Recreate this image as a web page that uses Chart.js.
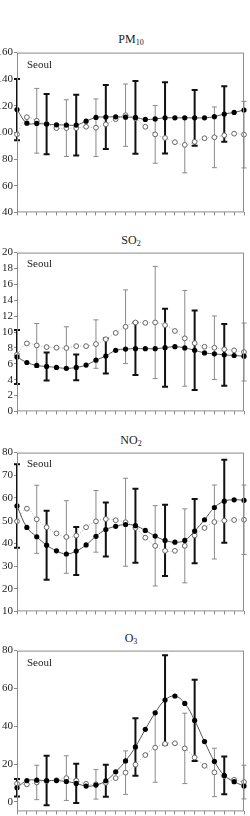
<!DOCTYPE html>
<html>
<head>
<meta charset="utf-8">
<script src="https://cdn.jsdelivr.net/npm/chart.js@4.4.0/dist/chart.umd.min.js"></script>
<style>
  body { margin: 0; background: #fff; width: 250px; height: 816px; position: relative; overflow: hidden; font-family: "Liberation Serif", serif; color: #222; }
  canvas { position: absolute; left: 0; }
  .title { position: absolute; left: 6px; width: 250px; text-align: center; font-size: 12px; line-height: 14px; }
  .title sub { font-size: 8px; vertical-align: -2px; }
  .city { position: absolute; left: 27px; font-size: 11px; line-height: 12px; }
</style>
</head>
<body>
<div class="title" style="top:32px">PM<sub>10</sub></div>
<canvas id="pm10" width="250" height="175" style="top:45px"></canvas>
<div class="city" style="top:58px">Seoul</div>

<div class="title" style="top:233px">SO<sub>2</sub></div>
<canvas id="so2" width="250" height="174" style="top:245px"></canvas>
<div class="city" style="top:257px">Seoul</div>

<div class="title" style="top:433px">NO<sub>2</sub></div>
<canvas id="no2" width="250" height="174" style="top:445px"></canvas>
<div class="city" style="top:457px">Seoul</div>

<div class="title" style="top:631px">O<sub>3</sub></div>
<canvas id="o3" width="250" height="176" style="top:643px"></canvas>
<div class="city" style="top:656px">Seoul</div>

<script>
const hours = ["0","1","2","3","4","5","6","7","8","9","10","11","12","13","14","15","16","17","18","19","20","21","22","23"];

// y tick labels per panel
const pm10Ticks = [40, 60, 80, 100, 120, 140, 160];
const so2Ticks = [0, 2, 4, 6, 8, 10, 12, 14, 16, 18, 20];
const no2Ticks = [10, 20, 30, 40, 50, 60, 70, 80];
const o3Ticks = [0, 20, 40, 60, 80];

// filled dots (A) and open dots (B), hourly means
const pm10A = [117.2, 107.0, 106.8, 106.3, 105.8, 105.6, 105.6, 108.5, 111.3, 111.6, 111.8, 111.5, 111.3, 109.8, 110.2, 111.0, 111.0, 111.0, 111.0, 111.0, 111.9, 113.9, 115.1, 116.9];
const pm10B = [98.6, 111.5, 108.8, 106.5, 103.3, 103.3, 103.3, 104.3, 103.6, 106.1, 110.0, 113.0, 110.6, 104.3, 98.6, 95.9, 92.7, 90.7, 93.0, 95.7, 96.4, 97.9, 99.1, 98.4];
const pm10ASd = [23.0, null, null, 22.6, null, null, 22.8, null, null, 24.0, null, null, 27.3, null, null, 26.7, null, null, 20.9, null, null, 20.8, null, null];
const pm10BSd = [null, null, 24.3, null, null, 21.3, null, null, 21.6, null, null, 23.4, null, null, 21.7, null, null, 21.0, null, null, 22.8, null, null, 25.0];

const so2A = [6.86, 6.16, 5.79, 5.66, 5.54, 5.42, 5.54, 5.83, 6.45, 6.98, 7.69, 7.85, 7.9, 7.9, 7.9, 8.02, 8.15, 8.0, 7.7, 7.37, 7.25, 7.12, 7.04, 6.95];
const so2B = [7.15, 8.56, 8.31, 8.1, 8.02, 7.98, 8.22, 8.22, 8.48, 9.09, 9.88, 10.66, 11.2, 11.15, 11.2, 10.87, 10.13, 9.2, 8.6, 8.14, 8.02, 7.81, 7.69, 7.48];
const so2ASd = [3.4, null, null, 1.76, null, null, 1.63, null, null, 2.2, null, null, 3.3, null, null, 4.9, null, null, 5.0, null, null, 3.9, null, null];
const so2BSd = [null, null, 2.76, null, null, 2.68, null, null, 3.05, null, null, 4.64, null, null, 7.07, null, null, 6.03, null, null, 4.0, null, null, 3.65];

const no2A = [56.5, 47.0, 42.9, 39.2, 36.7, 35.3, 36.6, 39.3, 43.1, 46.1, 47.5, 48.3, 47.8, 45.7, 43.2, 41.3, 40.5, 41.3, 45.4, 50.4, 55.8, 58.6, 59.2, 59.0];
const no2B = [49.7, 55.3, 50.6, 47.1, 44.4, 42.8, 43.4, 47.1, 49.7, 50.7, 50.2, 49.3, 46.8, 42.5, 38.9, 36.7, 36.7, 38.9, 43.5, 46.8, 49.4, 50.0, 50.3, 50.4];
const no2ASd = [18.4, null, null, 15.2, null, null, 10.6, null, null, 11.9, null, null, 16.3, null, null, 15.7, null, null, 14.2, null, null, 18.3, null, null];
const no2BSd = [null, null, 15.0, null, null, 16.0, null, null, 13.6, null, null, 19.4, null, null, 17.7, null, null, 16.3, null, null, 16.3, null, null, 15.3];

const o3A = [7.5, 11.3, 11.5, 11.3, 11.3, 10.8, 9.8, 8.4, 8.9, 11.2, 15.9, 21.7, 29.1, 38.4, 47.1, 53.9, 56.0, 52.1, 43.1, 31.9, 21.4, 14.0, 10.7, 8.4];
const o3B = [9.6, 9.3, 10.3, 11.0, 11.5, 12.6, 11.3, 9.6, 9.3, 10.1, 12.6, 15.5, 19.7, 24.8, 28.7, 30.7, 31.0, 28.3, 23.5, 19.1, 15.6, 13.7, 11.7, 10.5];
const o3ASd = [4.6, null, null, 13.1, null, null, 10.4, null, null, 8.4, null, null, 15.2, null, null, 23.6, null, null, 21.5, null, null, 10.0, null, null];
const o3BSd = [null, null, 9.1, null, null, 11.8, null, null, 7.8, null, null, 11.5, null, null, 18.3, null, null, 18.6, null, null, 12.8, null, null, 8.9];

Chart.defaults.font.family = "'Liberation Serif', serif";
Chart.defaults.font.size = 11;
Chart.defaults.color = "#222";

// error bars + box frame
const errBars = {
  id: "errBars",
  beforeDatasetsDraw(chart, args, opts) {
    const { ctx, scales: { x, y } } = chart;
    ctx.save();
    opts.sets.forEach((s) => {
      ctx.strokeStyle = s.color;
      ctx.lineWidth = s.width;
      s.mean.forEach((m, i) => {
        if (s.sd[i] == null) return;
        const px = x.getPixelForValue(i);
        const top = y.getPixelForValue(m + s.sd[i]);
        const bot = y.getPixelForValue(m - s.sd[i]);
        ctx.beginPath();
        ctx.moveTo(px, top); ctx.lineTo(px, bot);
        ctx.moveTo(px - s.cap, top); ctx.lineTo(px + s.cap, top);
        ctx.moveTo(px - s.cap, bot); ctx.lineTo(px + s.cap, bot);
        ctx.stroke();
      });
    });
    ctx.restore();
  },
  afterDraw(chart) {
    const { ctx, chartArea: a } = chart;
    ctx.save();
    ctx.strokeStyle = "#8c8c8c";
    ctx.lineWidth = 1;
    ctx.strokeRect(a.left + 0.5, a.top + 0.5, a.width - 1, a.height - 1);
    ctx.restore();
  }
};

function makeChart(id, a, b, aSd, bSd, yMin, yMax, tickVals) {
  new Chart(document.getElementById(id), {
    type: "line",
    data: {
      labels: hours,
      datasets: [
        {
          data: a,
          borderColor: "#555",
          borderWidth: 1,
          tension: 0.4,
          pointRadius: 2.6,
          pointBackgroundColor: "#000",
          pointBorderColor: "#000",
          pointBorderWidth: 0
        },
        {
          data: b,
          borderColor: "#aaa",
          borderWidth: 1,
          borderDash: [1, 2],
          tension: 0.4,
          pointRadius: 2.4,
          pointBackgroundColor: "#fff",
          pointBorderColor: "#666",
          pointBorderWidth: 1
        }
      ]
    },
    options: {
      responsive: false,
      animation: false,
      layout: { padding: { top: 6, right: 6, left: 0, bottom: 0 } },
      plugins: {
        legend: { display: false },
        tooltip: { enabled: false },
        errBars: {
          sets: [
            { mean: b, sd: bSd, color: "#8a8a8a", width: 1, cap: 2.5 },
            { mean: a, sd: aSd, color: "#111", width: 2, cap: 3 }
          ]
        }
      },
      scales: {
        x: {
          offset: false,
          grid: { drawOnChartArea: false, drawTicks: true, tickLength: 3, color: "#8c8c8c", offset: false },
          border: { display: false },
          ticks: { display: false, autoSkip: false },
          afterFit: (s) => { s.height = 7; }
        },
        y: {
          min: yMin,
          max: yMax,
          grid: { drawOnChartArea: false, drawTicks: true, tickLength: 3, color: "#8c8c8c" },
          border: { display: false },
          ticks: { padding: 1, color: "#222", autoSkip: false },
          afterBuildTicks: (s) => { s.ticks = tickVals.map((v) => ({ value: v })); },
          afterFit: (s) => { s.width = 17; }
        }
      }
    },
    plugins: [errBars]
  });
}

makeChart("pm10", pm10A, pm10B, pm10ASd, pm10BSd, 40, 160, pm10Ticks);
makeChart("so2", so2A, so2B, so2ASd, so2BSd, 0, 20, so2Ticks);
makeChart("no2", no2A, no2B, no2ASd, no2BSd, 10, 80, no2Ticks);
makeChart("o3", o3A, o3B, o3ASd, o3BSd, -5, 80, o3Ticks);
</script>
</body>
</html>
